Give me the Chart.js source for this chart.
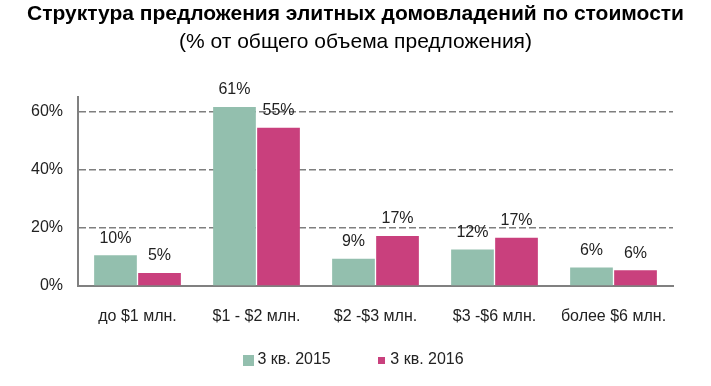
<!DOCTYPE html>
<html><head><meta charset="utf-8">
<script src="https://cdn.jsdelivr.net/npm/chart.js@4.4.1/dist/chart.umd.min.js"></script>
<style>html,body{margin:0;padding:0;background:#fff}#wrap{width:711px;height:386px;position:relative}</style>
</head><body><div id="wrap"><canvas id="c" width="711" height="386"></canvas></div>
<script>
const categories = ["до $1 млн.", "$1 - $2 млн.", "$2 -$3 млн.", "$3 -$6 млн.", "более $6 млн."];
const series2015 = [10.6, 61.7, 9.4, 12.6, 6.4];
const series2016 = [4.5, 54.5, 17.2, 16.6, 5.4];
const labels2015 = ["10%", "61%", "9%", "12%", "6%"];
const labels2016 = ["5%", "55%", "17%", "17%", "6%"];
const yTicks = [0, 20, 40, 60];
const seriesNames = ["3 кв. 2015", "3 кв. 2016"];
const seriesColors = ['#93bfae', '#c9407d'];
const FONT = "'Liberation Sans', Arial, sans-serif";

function square(size, color) {
  const cv = document.createElement('canvas');
  cv.width = size; cv.height = size;
  const g = cv.getContext('2d');
  g.fillStyle = color; g.fillRect(0, 0, size, size);
  return cv;
}
const legendMarks = [square(11, seriesColors[0]), square(7, seriesColors[1])];

const labelPlugin = {
  id: 'barLabels',
  afterDatasetsDraw(chart) {
    const ctx = chart.ctx;
    const texts = [labels2015, labels2016];
    ctx.save();
    ctx.font = "16px " + FONT;
    ctx.fillStyle = "#222";
    ctx.textAlign = "center";
    ctx.textBaseline = "middle";
    chart.data.datasets.forEach((ds, di) => {
      chart.getDatasetMeta(di).data.forEach((bar, i) => {
        ctx.fillText(texts[di][i], bar.x, bar.y - 17);
      });
    });
    ctx.restore();
  }
};

new Chart(document.getElementById('c'), {
  type: 'bar',
  data: {
    labels: categories,
    datasets: [
      { label: seriesNames[0], data: series2015, backgroundColor: seriesColors[0], borderWidth: 0, pointStyle: legendMarks[0] },
      { label: seriesNames[1], data: series2016, backgroundColor: seriesColors[1], borderWidth: 0, pointStyle: legendMarks[1] }
    ]
  },
  options: {
    responsive: false,
    animation: false,
    devicePixelRatio: 1,
    layout: { padding: { left: 0, right: 0, top: 2, bottom: 8 } },
    categoryPercentage: 0.74,
    barPercentage: 0.97,
    plugins: {
      title: { display: true, text: "Структура предложения элитных домовладений по стоимости",
        font: { family: FONT, size: 21, weight: 'bold' }, color: '#000', padding: { top: 0, bottom: 2 } },
      subtitle: { display: true, text: "(% от общего объема предложения)",
        font: { family: FONT, size: 21 }, color: '#000', padding: { top: 0, bottom: 43 } },
      legend: { position: 'bottom', labels: { font: { family: FONT, size: 16 }, color: '#222',
        usePointStyle: true, pointStyleWidth: 2, boxWidth: 11, boxHeight: 11, padding: 14,
        generateLabels(chart) {
          const items = Chart.defaults.plugins.legend.labels.generateLabels(chart);
          items[0].text = items[0].text + '        ';
          return items;
        } } },
      tooltip: { enabled: false }
    },
    scales: {
      x: {
        afterFit(scale) { scale.height = 52; },
        grid: { display: false, drawTicks: false },
        border: { display: true, color: '#808080', width: 2 },
        ticks: { font: { family: FONT, size: 16 }, color: '#222', padding: 21 }
      },
      y: {
        min: 0, max: 65,
        afterBuildTicks(scale) { scale.ticks = yTicks.map(v => ({ value: v })); },
        afterFit(scale) { scale.width = 78; },
        grid: { color: c => c.tick && c.tick.value === 0 ? 'rgba(0,0,0,0)' : '#7f7f7f', lineWidth: 1.5, drawTicks: false },
        border: { display: true, color: '#808080', width: 2, dash: [7, 3] },
        ticks: { font: { family: FONT, size: 16 }, color: '#222', padding: 15, callback: v => v + '%' }
      },
      yRight: {
        type: 'linear', position: 'right', display: true,
        afterFit(scale) { scale.width = 38; },
        grid: { display: false, drawOnChartArea: false, drawTicks: false },
        border: { display: false },
        ticks: { display: false }
      }
    }
  },
  plugins: [labelPlugin]
});
</script></body></html>
